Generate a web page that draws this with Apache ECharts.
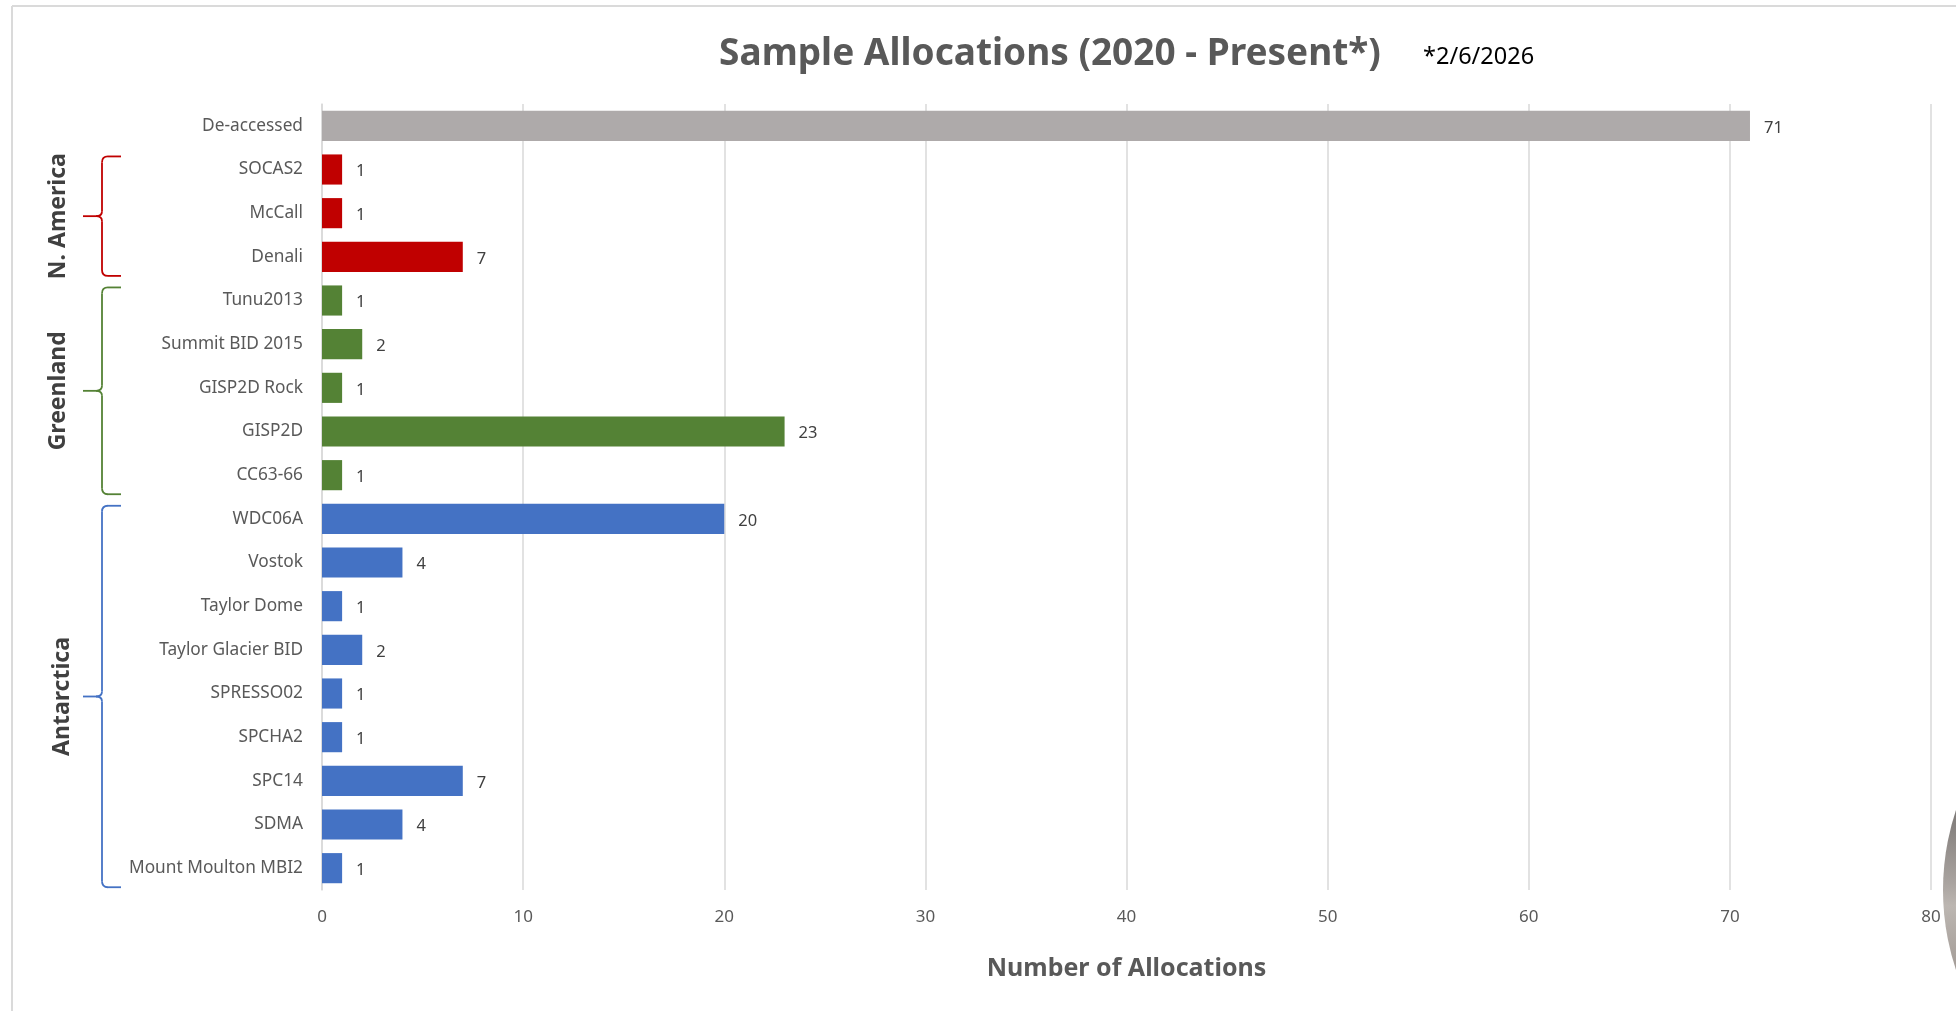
<!DOCTYPE html>
<html>
<head>
<meta charset="utf-8">
<script src="https://cdn.jsdelivr.net/npm/echarts@6/dist/echarts.min.js"></script>
<style>
html,body{margin:0;padding:0;background:#fff;}
#main{width:1956px;height:1011px;}
</style>
</head>
<body>
<div id="main"></div>
<script>
// ---- data ----
const categories = ['De-accessed','SOCAS2','McCall','Denali','Tunu2013','Summit BID 2015','GISP2D Rock','GISP2D','CC63-66','WDC06A','Vostok','Taylor Dome','Taylor Glacier BID','SPRESSO02','SPCHA2','SPC14','SDMA','Mount Moulton MBI2'];
const values = [71,1,1,7,1,2,1,23,1,20,4,1,2,1,1,7,4,1];
const groupOf = ['','N. America','N. America','N. America','Greenland','Greenland','Greenland','Greenland','Greenland','Antarctica','Antarctica','Antarctica','Antarctica','Antarctica','Antarctica','Antarctica','Antarctica','Antarctica'];
const groupNames = ['N. America','Greenland','Antarctica'];
const xTicks = [0,10,20,30,40,50,60,70,80];
const titleText = 'Sample Allocations (2020 - Present*)';
const dateText = '*2/6/2026';
const xAxisTitle = 'Number of Allocations';

// ---- styles ----
const groupColor = {'':'#AEAAAA','N. America':'#C00000','Greenland':'#548235','Antarctica':'#4472C4'};
const FONT = 'Noto Sans';

const chart = echarts.init(document.getElementById('main'), null, {renderer:'canvas'});

const option = {
  backgroundColor:'#fff',
  animation:false,
  title:{
    text:titleText,
    left:1045, top:31, textAlign:'center',
    textStyle:{fontFamily:FONT,fontSize:37,fontWeight:'bold',color:'#595959'}
  },
  grid:{left:322,right:25,top:104,bottom:121,containLabel:false},
  xAxis:{
    type:'value', min:xTicks[0], max:xTicks[xTicks.length-1], interval:xTicks[1]-xTicks[0],
    axisLine:{show:false}, axisTick:{show:false},
    splitLine:{show:true,lineStyle:{color:'#D9D9D9',width:1.5}},
    axisLabel:{fontFamily:FONT,fontSize:17,color:'#595959',margin:19},
    name:xAxisTitle, nameLocation:'middle', nameGap:66,
    nameTextStyle:{fontFamily:FONT,fontSize:25,fontWeight:'bold',color:'#595959'}
  },
  yAxis:{
    type:'category', data:categories, inverse:true,
    axisLine:{show:true,lineStyle:{color:'#D9D9D9',width:1.5}},
    axisTick:{show:false},
    axisLabel:{fontFamily:FONT,fontSize:17.3,color:'#595959',margin:19}
  },
  series:[{
    type:'bar',
    data:values.map((v,i)=>({value:v,itemStyle:{color:groupColor[groupOf[i]]}})),
    barCategoryGap:'31%',
    label:{show:true,position:'right',distance:14,offset:[0,2],fontFamily:FONT,fontSize:16.5,color:'#404040'}
  }]
};
chart.setOption(option);

function buildGraphics(){
  const g = [];
  const frame = {stroke:'#DADADA',lineWidth:2};
  g.push({type:'line',shape:{x1:12,y1:6,x2:1956,y2:6},style:frame,silent:true});
  g.push({type:'line',shape:{x1:12,y1:6,x2:12,y2:1011},style:frame,silent:true});
  g.push({type:'text',x:1423,y:57,style:{text:dateText,fontFamily:FONT,fontSize:23.5,fill:'#000',textAlign:'left',textVerticalAlign:'middle'}});
  const c0 = chart.convertToPixel({yAxisIndex:0}, categories[0]);
  const c1 = chart.convertToPixel({yAxisIndex:0}, categories[1]);
  const band = c1 - c0;
  const halfBar = band*0.69/2;
  const labelX = {'N. America':58,'Greenland':58,'Antarctica':62};
  groupNames.forEach(name=>{
    const idx = categories.map((c,i)=>i).filter(i=>groupOf[i]===name);
    const yTop = chart.convertToPixel({yAxisIndex:0}, categories[idx[0]]) - halfBar + 2;
    const yBot = chart.convertToPixel({yAxisIndex:0}, categories[idx[idx.length-1]]) + halfBar + 4;
    const ym = (yTop+yBot)/2;
    const xv = 102, xh = 121, xt = 83, r = 6;
    const st = {stroke:groupColor[name],lineWidth:1.8,fill:null};
    const seg = (shape,type)=>g.push({type:type,shape:shape,style:st,silent:true});
    seg({x1:xh,y1:yTop,x2:xv+r,y2:yTop},'line');
    seg({x1:xv+r,y1:yTop,x2:xv,y2:yTop+r,cpx1:xv,cpy1:yTop},'bezierCurve');
    seg({x1:xv,y1:yTop+r,x2:xv,y2:ym-5},'line');
    seg({x1:xv,y1:ym-5,x2:xv-6,y2:ym,cpx1:xv,cpy1:ym},'bezierCurve');
    seg({x1:xv-6,y1:ym,x2:xt,y2:ym},'line');
    seg({x1:xv-6,y1:ym,x2:xv,y2:ym+5,cpx1:xv,cpy1:ym},'bezierCurve');
    seg({x1:xv,y1:ym+5,x2:xv,y2:yBot-r},'line');
    seg({x1:xv,y1:yBot-r,x2:xv+r,y2:yBot,cpx1:xv,cpy1:yBot},'bezierCurve');
    seg({x1:xv+r,y1:yBot,x2:xh,y2:yBot},'line');
    g.push({type:'text',x:labelX[name],y:ym,rotation:Math.PI/2,
      style:{text:name,fontFamily:FONT,fontSize:23,fontWeight:'bold',fill:'#404040',textAlign:'center',textVerticalAlign:'middle'}});
  });
  g.push({type:'circle',shape:{cx:2196,cy:890,r:253},silent:true,
    style:{fill:{type:'linear',x:0,y:810,x2:0,y2:970,global:true,colorStops:[
      {offset:0,color:'#7d7977'},{offset:0.45,color:'#a9a39f'},{offset:0.6,color:'#bcb6b1'},{offset:1,color:'#a39c97'}]}}});
  chart.setOption({graphic:g});
}
buildGraphics();
</script>
</body>
</html>
